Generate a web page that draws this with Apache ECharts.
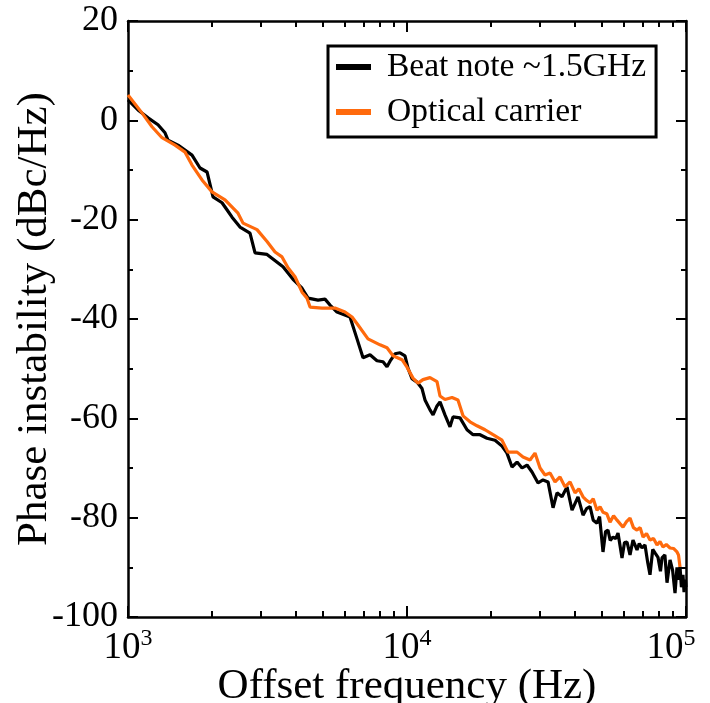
<!DOCTYPE html>
<html>
<head>
<meta charset="utf-8">
<script src="https://cdn.jsdelivr.net/npm/echarts@6/dist/echarts.min.js"></script>
<style>
html,body{margin:0;padding:0;background:#fff;}
#chart{width:710px;height:703px;}
</style>
</head>
<body>
<div id="chart"></div>
<script>
const seriesNames = ['Beat note ~1.5GHz', 'Optical carrier'];
const minorTickHz = [2000,3000,4000,5000,6000,7000,8000,9000,20000,30000,40000,50000,60000,70000,80000,90000];

const blackHz = [1000,1086,1180,1281,1357,1391,1511,1696,1812,1920,2017,2173,2263,2360,2520,2737,2853,3150,3594,3904,4205,4419,4798,5083,5297,5613,6248,6620,6956,7370,7806,8204,8479,8693,9058,9439,9836,10080,10420,10860,11320,11600,12090,12400,12810,13130,13680,14260,14620,15490,16410,17250,18270,19350,20680,21900,22820,23790,24800,25840,26930,28060,29490,30730,32030,33380,34490,35940,37460,39040,41020,42750,44000,45290,46500,47970,49000,50410,51500,52530,53500,54760,56000,57060,58970,60200,61460,63000,64570,66740,68000,69560,71300,72800,74300,76000,77430,79370,81000,82040,84000,85500,87650,89500,91340,92840,94000,95170,96300,97540,98400,99500,100000];
const blackDb = [4.1,2.1,0.5,-0.9,-2.5,-4,-5,-7,-9.6,-10.4,-15.4,-16.6,-18,-19.5,-21.5,-22.7,-26.7,-27,-29.5,-32,-33.8,-35.8,-36.2,-36,-37.2,-38.6,-39.6,-44,-47.8,-47.2,-48.4,-48.6,-49.6,-48.5,-47,-46.8,-47.4,-49.9,-52,-52.7,-54,-56.3,-58.3,-59.3,-57.5,-56.7,-59.3,-61.7,-59.7,-59.9,-62.3,-63.3,-63.3,-64,-64.4,-65.6,-67,-69.8,-68.8,-70,-69.4,-70.8,-73,-72.4,-72.8,-78,-75,-75.8,-73.8,-78.5,-75.8,-79.5,-78.2,-77.8,-80.5,-81.1,-79.8,-86.9,-82.8,-82.5,-84.6,-83.9,-84.2,-83.1,-88.1,-85,-84.9,-87.5,-84.5,-86.5,-85.2,-86.1,-85.5,-88.8,-91.5,-86.4,-87.1,-88,-90.8,-88.1,-87.5,-93.1,-88.5,-90.5,-95.2,-90,-92.5,-89.9,-94,-91.5,-95,-92.5,-94];

const orangeHz = [1000,1122,1219,1324,1474,1601,1696,1842,2000,2227,2479,2584,2900,3150,3365,3565,3746,3968,4205,4382,4492,4958,5520,5996,6354,6674,7248,8003,8479,8910,9597,10000,10510,10950,11410,12090,12810,13130,13680,14500,15230,15880,16820,17820,19040,20340,21900,23010,24800,26050,27600,28760,29980,31240,32560,33930,35350,36840,38400,40020,41300,42750,44000,45290,46500,47970,49200,50410,52000,53420,55000,56590,58000,59460,61200,63000,64800,66740,68500,70140,72200,74300,76500,78730,80700,82720,85000,87650,90200,92840,94000,95170];
const orangeDb = [5.1,1.5,-1.3,-3.5,-5,-6.4,-9,-12,-14.4,-16,-18.7,-20.7,-22,-24.4,-26.5,-27.5,-29.7,-31.5,-34.6,-35.8,-37.6,-37.8,-37.8,-38.6,-39.6,-41.2,-44,-45.2,-45.8,-47.4,-48.2,-49.7,-51.9,-52.9,-52.2,-51.8,-52.6,-55.5,-56.2,-55.8,-56.3,-59.5,-60.7,-61.5,-62.3,-63.3,-64.4,-66.8,-66.8,-67.8,-68.4,-67,-70,-71.4,-71,-72.8,-71.8,-73.8,-72.8,-75,-74.2,-75.8,-76.5,-77,-76.2,-78.5,-77.8,-78.9,-79.2,-80.9,-79.6,-80.5,-81.2,-81.9,-80.8,-80.1,-82,-82.5,-82,-83.9,-83.2,-84.5,-84.2,-85.5,-84.8,-85.9,-85.4,-86.1,-86.2,-86.9,-87.5,-89.9];

const FONT = '"Liberation Serif", "Times New Roman", serif';
const minorLog = minorTickHz.map(v => Math.log10(v));

const chart = echarts.init(document.getElementById('chart'), null, {renderer: 'canvas'});

const axisLineStyle = {color: '#000', width: 2.5};
const tickStyle = {color: '#000', width: 2};

chart.setOption({
  animation: false,
  backgroundColor: '#fff',
  grid: {left: 128, right: 24, top: 21, bottom: 86, containLabel: false, outerBoundsMode: 'none'},
  legend: {
    orient: 'vertical',
    left: 328,
    top: 46,
    padding: [3, 10, 7, 8],
    itemGap: 9,
    itemWidth: 35,
    itemHeight: 6,
    icon: 'rect',
    borderColor: '#000',
    borderWidth: 3,
    backgroundColor: '#fff',
    textStyle: {fontFamily: FONT, fontSize: 33.5, color: '#000', lineHeight: 36, padding: [0, 0, 0, 11]},
    data: seriesNames
  },
  xAxis: [
    {
      type: 'log', logBase: 10, min: 1000, max: 100000, position: 'bottom',
      axisLine: {show: true, onZero: false, lineStyle: axisLineStyle},
      axisTick: {show: true, inside: true, length: 11, lineStyle: tickStyle},
      splitLine: {show: false},
      axisLabel: {
        margin: 10,
        color: '#000',
        fontFamily: FONT,
        formatter: function (v) {
          const e = Math.round(Math.log10(v));
          if (e === 5) return '{b|10}{s|' + e + '}{p|}';
          return '{b|10}{s|' + e + '}';
        },
        rich: {
          b: {fontFamily: FONT, fontSize: 37, color: '#000'},
          s: {fontFamily: FONT, fontSize: 24, color: '#000', padding: [0, 0, 18, 0]},
          p: {width: 30}
        }
      },
      name: 'Offset frequency (Hz)',
      nameLocation: 'middle',
      nameGap: 48,
      nameMoveOverlap: false,
      nameTextStyle: {fontFamily: FONT, fontSize: 43, color: '#000'}
    },
    {
      type: 'value', min: 3, max: 5, position: 'bottom',
      axisLine: {show: false, onZero: false},
      axisTick: {show: true, inside: true, length: 6, lineStyle: tickStyle, customValues: minorLog},
      axisLabel: {show: false},
      splitLine: {show: false}
    },
    {
      type: 'log', logBase: 10, min: 1000, max: 100000, position: 'top',
      axisLine: {show: true, onZero: false, lineStyle: axisLineStyle},
      axisTick: {show: true, inside: true, length: 11, lineStyle: tickStyle},
      axisLabel: {show: false},
      splitLine: {show: false}
    },
    {
      type: 'value', min: 3, max: 5, position: 'top',
      axisLine: {show: false, onZero: false},
      axisTick: {show: true, inside: true, length: 6, lineStyle: tickStyle, customValues: minorLog},
      axisLabel: {show: false},
      splitLine: {show: false}
    }
  ],
  yAxis: [
    {
      type: 'value', min: -100, max: 20, interval: 20, position: 'left',
      axisLine: {show: true, onZero: false, lineStyle: axisLineStyle},
      axisTick: {show: true, inside: true, length: 10, lineStyle: tickStyle},
      minorTick: {show: true, splitNumber: 2, length: 5, lineStyle: tickStyle},
      splitLine: {show: false},
      minorSplitLine: {show: false},
      axisLabel: {fontFamily: FONT, fontSize: 36, color: '#000', margin: 10},
      name: 'Phase instability (dBc/Hz)',
      nameLocation: 'middle',
      nameGap: 72,
      nameMoveOverlap: false,
      nameTextStyle: {fontFamily: FONT, fontSize: 43, color: '#000'}
    },
    {
      type: 'value', min: -100, max: 20, interval: 20, position: 'right',
      axisLine: {show: true, onZero: false, lineStyle: axisLineStyle},
      axisTick: {show: true, inside: true, length: 10, lineStyle: tickStyle},
      minorTick: {show: true, splitNumber: 2, length: 5, lineStyle: tickStyle},
      splitLine: {show: false},
      axisLabel: {show: false}
    }
  ],
  series: [
    {
      name: seriesNames[0], type: 'line', xAxisIndex: 0, yAxisIndex: 0,
      symbol: 'none', showSymbol: false, color: '#000',
      lineStyle: {color: '#000', width: 3.2},
      data: blackHz.map((f, i) => [f, blackDb[i]])
    },
    {
      name: seriesNames[1], type: 'line', xAxisIndex: 0, yAxisIndex: 0,
      symbol: 'none', showSymbol: false, color: '#ff6a0d',
      lineStyle: {color: '#ff6a0d', width: 3.2},
      data: orangeHz.map((f, i) => [f, orangeDb[i]])
    }
  ]
});
</script>
</body>
</html>
